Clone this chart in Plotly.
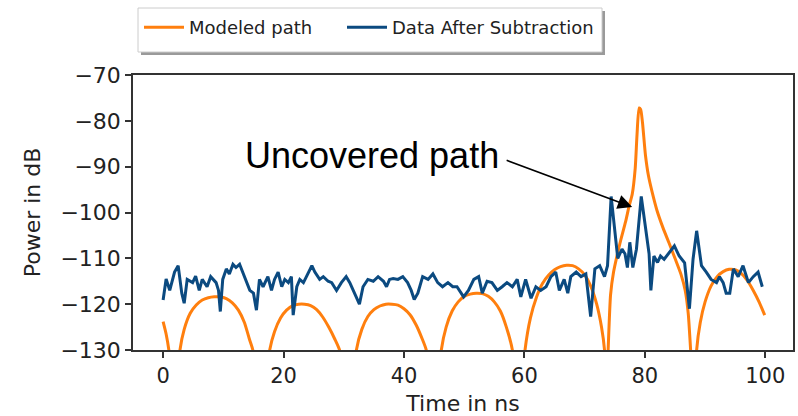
import plotly.graph_objects as go

# Modeled path (dB) versus delay (ns); values below -130 mark the nulls
orange_t = [0.0, 0.5, 1.0, 1.5,
            2.2, 2.8, 3.5, 4.5, 5.5, 6.5, 7.5, 8.5, 9.5, 10.5, 11.5, 12.5, 13.5, 14.3, 14.9, 15.7,
            16.8, 17.7, 18.5, 19.5, 20.5, 21.5, 22.5, 23.5, 24.5, 25.5, 26.5, 27.5, 28.5, 29.3, 30.5,
            31.5, 32.1, 33.0, 34.0, 35.0, 36.0, 37.0, 38.0, 39.0, 40.0, 41.0, 42.0, 43.0, 43.7, 44.8,
            45.6, 46.2, 47.0, 48.0, 49.0, 50.0, 51.0, 52.0, 53.0, 54.0, 55.0, 56.0, 57.0, 58.0, 58.8,
            59.5, 60.1, 61.0, 62.0, 63.0, 64.0, 65.0, 66.0, 67.0, 68.0, 69.0, 70.0, 71.0, 72.0, 72.8, 73.3, 73.6,
            73.9, 74.3, 74.8, 75.4, 76.0, 76.8, 77.4, 77.9, 78.4, 78.7, 79.05, 79.3, 79.6, 80.1, 80.6,
            81.2, 82.0, 83.0, 84.0, 85.0, 86.0, 86.7, 87.2, 87.6, 88.0,
            88.3, 88.6, 89.2, 90.0, 91.0, 92.0, 93.0, 94.0, 95.0, 96.0, 97.0, 98.0, 99.0, 99.9]
orange_db = [-123.8, -126.5, -130.5, -140.0,
             -140.0, -130.0, -125.5, -122.0, -120.2, -119.1, -118.6, -118.4, -118.4, -118.8, -119.7, -121.3, -124.0, -127.5, -130.0, -140.0,
             -140.0, -130.0, -126.0, -123.0, -121.3, -120.3, -120.0, -120.0, -120.3, -121.2, -122.8, -125.0, -127.6, -130.0, -140.0,
             -140.0, -130.0, -125.5, -122.7, -121.2, -120.4, -120.0, -120.0, -120.2, -121.0, -122.3, -124.5, -127.5, -130.0, -140.0,
             -140.0, -130.0, -125.0, -121.5, -119.5, -118.3, -117.8, -117.6, -117.7, -118.3, -119.5, -121.5, -125.0, -130.0, -140.0,
             -140.0, -130.0, -123.0, -118.5, -115.5, -113.7, -112.5, -111.8, -111.5, -111.6, -112.3, -113.6, -116.0, -120.0, -125.0, -130.0, -140.0,
             -130.0, -118.0, -113.0, -109.3, -106.0, -102.0, -98.5, -96.0, -90.3, -83.0, -77.2, -77.5, -80.3, -87.5, -92.0,
             -95.5, -99.5, -103.3, -106.6, -110.0, -113.5, -117.0, -122.0, -130.0, -140.0,
             -140.0, -130.0, -124.0, -119.5, -116.0, -114.0, -112.9, -112.4, -112.5, -113.3, -114.8, -117.0, -119.6, -122.4]

# Measured data after subtraction (dB) versus delay (ns)
blue_t = [0.0, 0.5, 1.1, 1.9, 2.5, 3.1, 3.5, 4.0, 4.9, 5.4,
          6.0, 6.5, 7.3, 7.9, 8.8, 9.2, 9.5, 9.9, 10.5, 11.0,
          11.6, 12.1, 12.7, 13.2, 13.8, 14.4, 15.0, 15.5, 16.0, 16.6,
          17.4, 18.0, 18.5, 19.1, 19.7, 20.2, 20.8, 21.3, 21.6, 22.2,
          22.7, 23.3, 23.8, 24.7, 25.2, 26.0, 26.6, 27.4, 28.0, 28.8,
          29.6, 30.4, 31.0, 31.8, 32.6, 33.2, 34.0, 34.9, 35.7, 36.6,
          37.1, 37.6, 38.2, 39.0, 39.8, 40.6, 41.2, 41.7, 42.3, 43.1,
          44.0, 44.8, 45.6, 46.4, 47.3, 48.1, 48.8, 49.9, 50.7, 51.6,
          52.4, 53.0, 53.8, 54.6, 55.5, 56.3, 57.1, 58.0, 58.8, 59.4,
          60.2, 61.1, 61.9, 62.7, 63.6, 64.4, 65.2, 65.8, 66.6, 67.2,
          67.7, 68.6, 69.4, 70.2, 71.0, 71.7, 72.5, 73.3, 73.8, 74.4,
          75.0, 75.5, 76.2, 76.7, 77.1, 77.5, 78.0, 78.6, 79.4, 80.1,
          80.7, 81.0, 81.5, 82.1, 82.6, 83.2, 84.0, 84.9, 85.7, 86.6,
          87.4, 88.0, 88.6, 89.4, 90.2, 91.0, 91.9, 92.4, 93.0, 93.5,
          94.1, 94.7, 95.5, 96.3, 97.2, 98.0, 98.8, 99.5]
blue_db = [-119.1, -114.5, -117.0, -113.0, -111.6, -117.6, -119.8, -114.6, -115.3, -113.9,
           -117.0, -114.6, -116.2, -114.0, -115.3, -117.0, -121.6, -114.6, -112.3, -113.4,
           -111.3, -112.0, -111.3, -113.0, -115.3, -117.0, -117.6, -121.3, -114.6, -116.2,
           -114.0, -117.0, -114.6, -113.0, -116.2, -114.6, -115.3, -114.0, -122.4, -116.2,
           -114.6, -115.3, -114.0, -111.6, -113.0, -114.6, -114.0, -115.0, -115.3, -117.0,
           -115.3, -114.0, -115.3, -117.6, -120.0, -116.2, -114.6, -115.0, -114.0, -115.0,
           -116.2, -114.6, -114.4, -114.6, -114.0, -115.3, -117.0, -119.0, -117.6, -114.0,
           -114.6, -113.4, -115.3, -116.2, -115.3, -116.2, -116.2, -118.4, -117.0, -114.6,
           -114.0, -117.6, -115.0, -115.3, -117.0, -116.2, -115.3, -116.2, -114.6, -118.4,
           -114.6, -118.7, -116.2, -117.0, -116.2, -114.0, -113.0, -117.0, -114.6, -117.6,
           -114.0, -113.0, -114.0, -113.4, -122.7, -112.3, -111.6, -114.0, -111.6, -96.5,
           -104.4, -110.0, -108.0, -109.0, -112.0, -106.5, -112.0, -108.0, -96.5, -103.5,
           -109.0, -117.0, -109.5, -110.9, -109.5, -110.2, -108.7, -107.3, -109.5, -111.0,
           -121.0, -110.2, -104.0, -111.6, -113.0, -114.6, -115.3, -114.0, -115.3, -117.6,
           -117.6, -112.3, -114.0, -111.6, -115.3, -114.0, -113.0, -116.2]

y_ticks = [-70, -80, -90, -100, -110, -120, -130]
x_ticks = [0, 20, 40, 60, 80, 100]

ORANGE = "#ff7f0e"
NAVY = "#0b4a80"
AXIS = "#333333"
TEXT = "#222222"
FONT = "DejaVu Sans"

fig = go.Figure()
fig.add_trace(go.Scatter(x=orange_t, y=orange_db, mode="lines", name="Modeled path",
                         legend="legend",
                         line=dict(color=ORANGE, width=3, shape="spline", smoothing=0.6)))
fig.add_trace(go.Scatter(x=blue_t, y=blue_db, mode="lines", name="Data After Subtraction",
                         legend="legend2",
                         line=dict(color=NAVY, width=3)))

# Plot-area geometry in pixels, used to place the legend frame in paper units
L, T, W, H = 133, 75, 660, 275
def px(xp):
    return (xp - L) / W
def py(yp):
    return (T + H - yp) / H

shapes = [
    dict(type="rect", xref="paper", yref="paper", x0=px(141), x1=px(605), y0=py(55), y1=py(11),
         fillcolor="#9a9a9a", line=dict(width=0), layer="above"),
    dict(type="rect", xref="paper", yref="paper", x0=px(138), x1=px(602), y0=py(52), y1=py(8),
         fillcolor="white", line=dict(color="#cccccc", width=1), layer="above"),
]

fig.add_annotation(x=77.9, y=-98.8, ax=56.8, ay=-88.5, xref="x", yref="y", axref="x", ayref="y",
                   text="", showarrow=True, arrowhead=2, arrowsize=1.8, arrowwidth=1.6,
                   arrowcolor="black")
fig.add_annotation(x=34.7, y=-87.6, xref="x", yref="y", text="Uncovered path", showarrow=False,
                   font=dict(family="Liberation Sans, Arial", size=36, color="black"))

legend_common = dict(orientation="h", xanchor="left", yanchor="top",
                     bgcolor="rgba(0,0,0,0)", borderwidth=0, itemwidth=40,
                     font=dict(family=FONT, size=18, color=TEXT))

fig.update_layout(
    width=798, height=416,
    margin=dict(l=L, r=798 - L - W, t=T, b=416 - T - H, autoexpand=False),
    paper_bgcolor="white", plot_bgcolor="white",
    font=dict(family=FONT, color=TEXT),
    shapes=shapes,
    showlegend=True,
    legend=dict(x=px(139), y=py(9), **legend_common),
    legend2=dict(x=px(342), y=py(9), **legend_common),
    xaxis=dict(range=[-5, 104.6], tickvals=x_ticks, showgrid=False, zeroline=False,
               showline=True, mirror=True, linecolor=AXIS, linewidth=1.5,
               ticks="outside", ticklen=6, tickwidth=1.5, tickcolor=AXIS,
               tickfont=dict(family=FONT, size=21, color=TEXT),
               title=dict(text="Time in ns", font=dict(family=FONT, size=22, color=TEXT), standoff=10)),
    yaxis=dict(range=[-130, -70], tickvals=y_ticks, showgrid=False, zeroline=False,
               showline=True, mirror=True, linecolor=AXIS, linewidth=1.5,
               ticks="outside", ticklen=6, tickwidth=1.5, tickcolor=AXIS,
               tickfont=dict(family=FONT, size=22, color=TEXT),
               title=dict(text="Power in dB", font=dict(family=FONT, size=22, color=TEXT), standoff=14)),
)

fig.write_html("out.html")
